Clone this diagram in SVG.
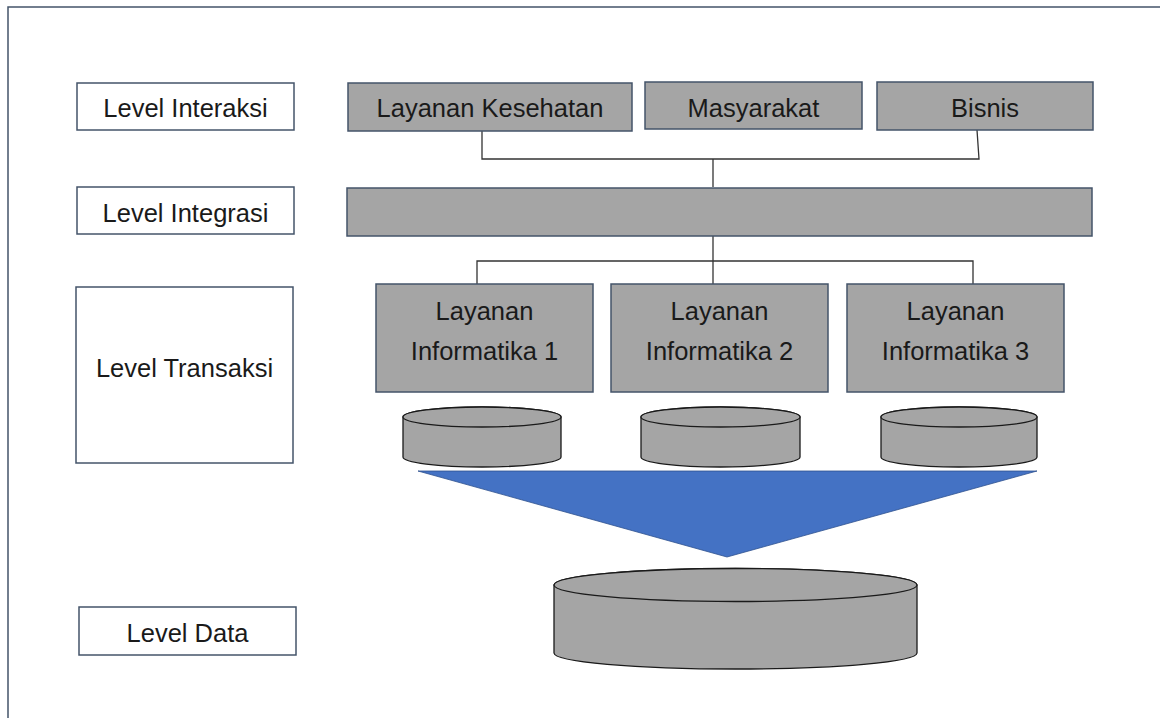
<svg xmlns="http://www.w3.org/2000/svg" width="1160" height="718" viewBox="0 0 1160 718">
<style>
.lvl{fill:#ffffff;stroke:#44546a;stroke-width:1.5}
.box{fill:#a5a5a5;stroke:#44546a;stroke-width:1.5}
.cyl{fill:#a5a5a5;stroke:#1a1a1a;stroke-width:1.3}
.conn{fill:none;stroke:#333333;stroke-width:1.3}
text{font-family:"Liberation Sans",Arial,sans-serif;font-size:25.5px;fill:#1a1a1a;text-anchor:middle}
</style>
<rect width="1160" height="718" fill="#ffffff"/>
<path d="M8,718 L8,7 L1160,7" fill="none" stroke="#44546a" stroke-width="1.5"/>

<g id="level-interaksi"><rect class="lvl" x="77" y="83" width="217" height="47"/><text x="185.5" y="117">Level Interaksi</text></g>
<g id="level-integrasi"><rect class="lvl" x="77" y="187" width="217" height="47"/><text x="185.5" y="222">Level Integrasi</text></g>
<g id="level-transaksi"><rect class="lvl" x="76" y="287" width="217" height="176"/><text x="184.5" y="377">Level Transaksi</text></g>
<g id="level-data"><rect class="lvl" x="79" y="607" width="217" height="48"/><text x="187.5" y="642">Level Data</text></g>

<g id="connectors">
<path class="conn" d="M482,131 L482,159 L979,159 L977,130"/>
<path class="conn" d="M713,159 L713,187"/>
<path class="conn" d="M713,236 L713,261"/>
<path class="conn" d="M477,284 L477,261 L973,261 L973,284"/>
<path class="conn" d="M713,261 L713,284"/>
</g>

<g id="layanan-kesehatan"><rect class="box" x="348" y="83" width="284" height="48"/><text x="490" y="117">Layanan Kesehatan</text></g>
<g id="masyarakat"><rect class="box" x="645" y="82" width="217" height="47"/><text x="753.5" y="117">Masyarakat</text></g>
<g id="bisnis"><rect class="box" x="877" y="82" width="216" height="48"/><text x="985" y="117">Bisnis</text></g>

<g id="integrasi"><rect class="box" x="347" y="188" width="745" height="48"/></g>

<g id="informatika-1"><rect class="box" x="376" y="284" width="217" height="108"/><text x="484.5" y="320">Layanan</text><text x="484.5" y="360">Informatika 1</text></g>
<g id="informatika-2"><rect class="box" x="611" y="284" width="217" height="108"/><text x="719.5" y="320">Layanan</text><text x="719.5" y="360">Informatika 2</text></g>
<g id="informatika-3"><rect class="box" x="847" y="284" width="217" height="108"/><text x="955.5" y="320">Layanan</text><text x="955.5" y="360">Informatika 3</text></g>

<g id="db-1"><path class="cyl" d="M403,417 L403,457 A79,10 0 0 0 561,457 L561,417 A79,10 0 0 0 403,417 Z"/><ellipse class="cyl" cx="482" cy="417" rx="79" ry="10"/></g>
<g id="db-2"><path class="cyl" d="M641,417 L641,457 A79.5,10 0 0 0 800,457 L800,417 A79.5,10 0 0 0 641,417 Z"/><ellipse class="cyl" cx="720.5" cy="417" rx="79.5" ry="10"/></g>
<g id="db-3"><path class="cyl" d="M881,417 L881,457 A78,10 0 0 0 1037,457 L1037,417 A78,10 0 0 0 881,417 Z"/><ellipse class="cyl" cx="959" cy="417" rx="78" ry="10"/></g>

<g id="funnel"><polygon points="418,471 1037,471 727,557" fill="#4472c4" stroke="#2f528f" stroke-width="0.8"/></g>

<g id="db-main"><path class="cyl" d="M554,585 L554,653 A181.5,16 0 0 0 917,653 L917,585 A181.5,16.5 0 0 0 554,585 Z"/><ellipse class="cyl" cx="735.5" cy="585" rx="181.5" ry="16.5"/></g>
</svg>
